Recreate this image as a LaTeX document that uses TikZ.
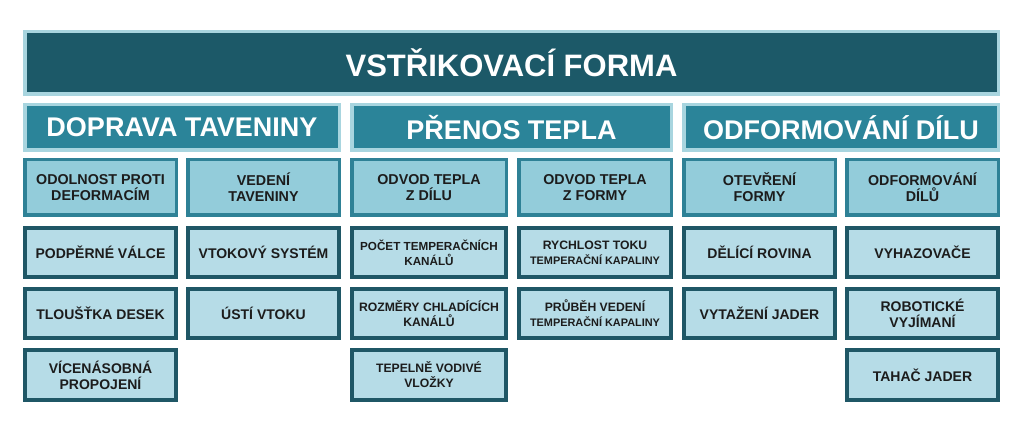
\documentclass[tikz,border=0pt]{standalone}
\usepackage{fontspec}
\setmainfont{Liberation Sans}
\definecolor{titlefill}{HTML}{1C5968}
\definecolor{lightrim}{HTML}{A8D5DF}
\definecolor{headfill}{HTML}{2B8499}
\definecolor{subrim}{HTML}{2E8196}
\definecolor{subfill}{HTML}{93CCDA}
\definecolor{itemrim}{HTML}{1F5766}
\definecolor{itemfill}{HTML}{B6DCE7}
\definecolor{inktext}{HTML}{1C1C1C}
\newcommand\smallline{\fontsize{10.9}{14}\selectfont}
\newcommand\mybox[7]{%
  \node[#6, minimum width={(#4-#2)*1pt-\pgflinewidth}, minimum height={(#5-#3)*1pt-\pgflinewidth}]
    (#1) at ({(#2+#4)/2},{(#3+#5)/2}) {#7};}
\begin{document}
\begin{tikzpicture}[x=1pt,y=-1pt,
  every node/.style={inner sep=0pt, outer sep=0pt, align=center, font=\bfseries},
  titlebox/.style={draw=lightrim, line width=3.5pt, fill=titlefill, text=white, font=\bfseries\fontsize{31}{34}\selectfont},
  headbox/.style={draw=lightrim, line width=3.5pt, fill=headfill, text=white, font=\bfseries\fontsize{27}{30}\selectfont},
  subbox/.style={draw=subrim, line width=3.5pt, fill=subfill, text=inktext, font=\bfseries\fontsize{14.3}{16}\selectfont},
  itembox/.style={draw=itemrim, line width=4pt, fill=itemfill, text=inktext, font=\bfseries\fontsize{14}{16}\selectfont},
  smallitem/.style={itembox, font=\bfseries\fontsize{12.2}{15}\selectfont},
  tinyitem/.style={itembox, font=\bfseries\fontsize{11.7}{15}\selectfont}]
\useasboundingbox (0,0) rectangle (1023,435);
\fill[white] (0,0) rectangle (1023,435);
% title
\mybox{t}{23}{30}{1000}{96}{titlebox}{VSTŘIKOVACÍ FORMA}
% headers
\mybox{h1}{23}{103}{341}{152}{headbox}{DOPRAVA TAVENINY}
\mybox{h2}{350}{103}{673}{152}{headbox}{PŘENOS TEPLA}
\mybox{h3}{682}{103}{1000}{152}{headbox}{ODFORMOVÁNÍ DÍLU}
% group 1
\mybox{a1}{23}{158}{178}{217}{subbox}{ODOLNOST PROTI\\DEFORMACÍM}
\mybox{b1}{186}{158}{341}{217}{subbox}{VEDENÍ\\TAVENINY}
\mybox{a2}{23}{226}{178}{279}{itembox}{PODPĚRNÉ VÁLCE}
\mybox{b2}{186}{226}{341}{279}{itembox}{VTOKOVÝ SYSTÉM}
\mybox{a3}{23}{287}{178}{340}{itembox}{TLOUŠŤKA DESEK}
\mybox{b3}{186}{287}{341}{340}{itembox}{ÚSTÍ VTOKU}
\mybox{a4}{23}{348}{178}{402}{itembox}{VÍCENÁSOBNÁ\\PROPOJENÍ}
% group 2
\mybox{c1}{350}{158}{508}{217}{subbox}{ODVOD TEPLA\\Z DÍLU}
\mybox{d1}{517}{158}{673}{217}{subbox}{ODVOD TEPLA\\Z FORMY}
\mybox{c2}{350}{226}{508}{279}{tinyitem}{POČET TEMPERAČNÍCH\\KANÁLŮ}
\mybox{d2}{517}{226}{673}{279}{smallitem}{RYCHLOST TOKU\\{\smallline TEMPERAČNÍ KAPALINY}}
\mybox{c3}{350}{287}{508}{340}{smallitem}{ROZMĚRY CHLADÍCÍCH\\KANÁLŮ}
\mybox{d3}{517}{287}{673}{340}{smallitem}{PRŮBĚH VEDENÍ\\{\smallline TEMPERAČNÍ KAPALINY}}
\mybox{c4}{350}{348}{508}{402}{smallitem}{TEPELNĚ VODIVÉ\\VLOŽKY}
% group 3
\mybox{e1}{682}{158}{837}{217}{subbox}{OTEVŘENÍ\\FORMY}
\mybox{f1}{845}{158}{1000}{217}{subbox}{ODFORMOVÁNÍ\\DÍLŮ}
\mybox{e2}{682}{226}{837}{279}{itembox}{DĚLÍCÍ ROVINA}
\mybox{f2}{845}{226}{1000}{279}{itembox}{VYHAZOVAČE}
\mybox{e3}{682}{287}{837}{340}{itembox}{VYTAŽENÍ JADER}
\mybox{f3}{845}{287}{1000}{340}{itembox}{ROBOTICKÉ\\VYJÍMANÍ}
\mybox{f4}{845}{348}{1000}{402}{itembox}{TAHAČ JADER}
\end{tikzpicture}
\end{document}
